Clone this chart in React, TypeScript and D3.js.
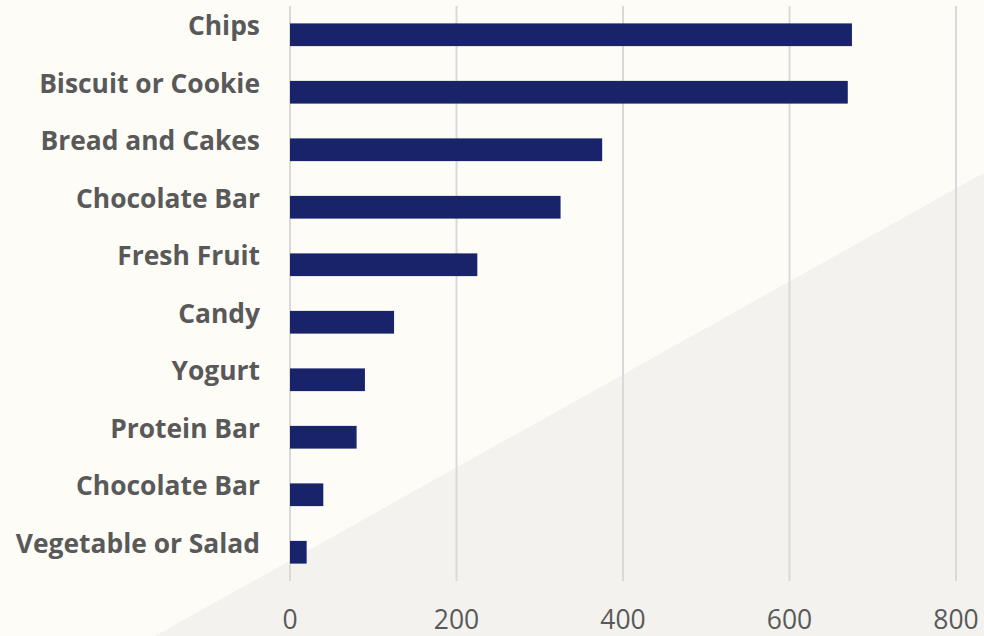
import React from "react";
import * as d3 from "d3";

const categories = [
  "Chips",
  "Biscuit or Cookie",
  "Bread and Cakes",
  "Chocolate Bar",
  "Fresh Fruit",
  "Candy",
  "Yogurt",
  "Protein Bar",
  "Chocolate Bar ",
  "Vegetable or Salad",
];
const values = [675, 670, 375, 325, 225, 125, 90, 80, 40, 20];
const xTicks = [0, 200, 400, 600, 800];

const W = 984;
const H = 636;

export default function App() {
  const x = d3.scaleLinear().domain([0, 800]).range([290, 956]);
  const y = d3
    .scaleBand<string>()
    .domain(categories)
    .range([6, 581])
    .paddingInner(0.605)
    .paddingOuter(0.3025);

  const tri = `M155,${H} L${W},172.7 L${W},${H} Z`;

  return (
    <svg
      width={W}
      height={H}
      style={{ position: "absolute", left: 0, top: 0, display: "block" }}
    >
      <rect x={0} y={0} width={W} height={H} fill="#fdfcf7" />
      <path d={tri} fill="#f3f2ef" />
      {xTicks.map((t) => (
        <line
          key={"g" + t}
          x1={x(t)}
          x2={x(t)}
          y1={6}
          y2={581}
          stroke="#d9d9d9"
          strokeWidth={2}
        />
      ))}
      {categories.map((c, i) => (
        <rect
          key={"b" + i}
          x={x(0)}
          y={y(c)}
          width={x(values[i]) - x(0)}
          height={y.bandwidth()}
          fill="#18236a"
        />
      ))}
      {categories.map((c, i) => (
        <text
          key={"l" + i}
          x={260}
          y={(y(c) as number) + y.bandwidth() / 2 + 0.5}
          textAnchor="end"
          fontFamily="'Open Sans', sans-serif"
          fontWeight={700}
          fontSize={26.4}
          fill="#595959"
        >
          {c.trim()}
        </text>
      ))}
      {xTicks.map((t) => (
        <text
          key={"t" + t}
          x={x(t)}
          y={628.5}
          textAnchor="middle"
          fontFamily="'Open Sans', sans-serif"
          fontSize={26.5}
          fill="#595959"
        >
          {d3.format("d")(t)}
        </text>
      ))}
    </svg>
  );
}
